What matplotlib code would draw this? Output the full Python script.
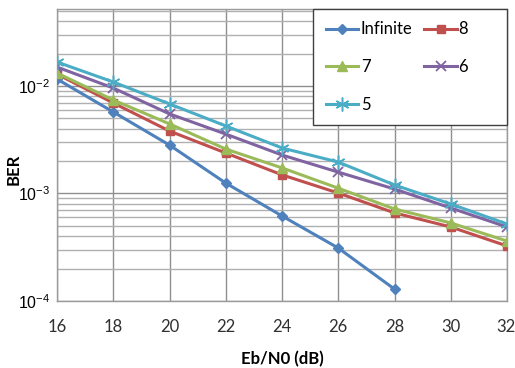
import matplotlib
matplotlib.use("Agg")
import matplotlib.pyplot as plt
import matplotlib.transforms as mtransforms
from matplotlib.ticker import LogLocator, FixedLocator, NullFormatter

ebn0 = [16, 18, 20, 22, 24, 26, 28, 30, 32]
ber_inf = [0.0116, 0.00573, 0.00282, 0.00125, 0.000618, 0.000311, 0.000129]
ber_8 = [0.0129, 0.00695, 0.00381, 0.00238, 0.00149, 0.00101, 0.000660, 0.000488, 0.000325]
ber_7 = [0.0132, 0.00741, 0.00444, 0.00259, 0.00173, 0.00112, 0.000718, 0.000532, 0.000361]
ber_6 = [0.0150, 0.00957, 0.00550, 0.00357, 0.00228, 0.00158, 0.00110, 0.000733, 0.000488]
ber_5 = [0.0167, 0.01089, 0.00681, 0.00425, 0.00265, 0.00196, 0.00120, 0.000798, 0.000520]
labels = ["Infinite", "8", "7", "6", "5"]
xticks = [16, 18, 20, 22, 24, 26, 28, 30, 32]
yticks = [1e-4, 1e-3, 1e-2]

plt.rcParams["font.family"] = ["Lato", "DejaVu Sans"]
plt.rcParams["mathtext.fontset"] = "custom"
plt.rcParams["mathtext.rm"] = "Liberation Sans"
plt.rcParams["mathtext.it"] = "Liberation Sans"
plt.rcParams["mathtext.bf"] = "Liberation Sans:bold"

fig = plt.figure(figsize=(5.15, 3.68), dpi=100)
ax = fig.add_axes([57/515, 67/368, 450/515, 292/368])

styles = [
    (ber_inf, "#4F81BD", "D", 5.5, {}),
    (ber_8, "#C0504D", "s", 6, {}),
    (ber_7, "#9BBB59", "^", 7, {}),
    (ber_6, "#8064A2", "x", 7, {"markeredgewidth": 1.3}),
    (ber_5, "#4BACC6", (6, 2, 0), 10, {"markeredgewidth": 1.1}),
]
handles = []
for (vals, col, mk, ms, extra), lab in zip(styles, labels):
    h, = ax.plot(ebn0[:len(vals)], vals, color=col, lw=2.2, marker=mk,
                 markersize=ms, markerfacecolor=col, markeredgecolor=col,
                 label=lab, zorder=3, **extra)
    handles.append(h)

ax.set_yscale("log")
ax.set_xlim(16, 32)
ax.set_ylim(1e-4, 0.052)
ax.xaxis.set_major_locator(FixedLocator(xticks))
ax.set_xticklabels([str(t) for t in xticks])
ax.yaxis.set_major_locator(FixedLocator(yticks))
ax.yaxis.set_minor_locator(LogLocator(base=10, subs=range(2, 10)))
ax.yaxis.set_minor_formatter(NullFormatter())
ax.set_yticklabels([r"$10^{-4}$", r"$10^{-3}$", r"$10^{-2}$"])
ax.tick_params(axis="both", which="both", length=0)
ax.tick_params(axis="x", labelsize=12, pad=13, labelcolor="#303030")
ax.tick_params(axis="y", labelsize=11.5, pad=5)
# keep the partially clipped last x label visible
lbl = ax.get_xticklabels()[-1]
lbl.set_horizontalalignment("right")
lbl.set_transform(lbl.get_transform() + mtransforms.ScaledTranslation(9/100, 0, fig.dpi_scale_trans))

ax.grid(True, which="major", color="#8F8F8F", lw=1.0)
ax.grid(True, which="minor", axis="y", color="#B0B0B0", lw=1.0)
ax.set_axisbelow(True)
for s in ax.spines.values():
    s.set_color("#9A9A9A")
    s.set_linewidth(1.0)

ax.set_xlabel("Eb/N0 (dB)", fontsize=12, fontweight="bold")
ax.xaxis.set_label_coords(0.5, -0.172)
ax.set_ylabel("BER", fontsize=12, fontweight="bold")
ax.yaxis.set_label_coords(-0.078, 0.45)

order = [0, 2, 4, 1, 3]
pad = " " * 6
leg_labels = [labels[i] + (pad if i in (1, 3) else "") for i in order]
leg = ax.legend([handles[i] for i in order], leg_labels,
                ncol=2, loc="upper right", bbox_to_anchor=(1.0, 1.0),
                fontsize=12, frameon=True, fancybox=False, labelspacing=1.3,
                handlelength=1.95, handletextpad=0.15, columnspacing=0.7,
                borderpad=0.75, borderaxespad=0.0)
leg.get_frame().set_edgecolor("#404040")
leg.get_frame().set_linewidth(1.0)
leg.get_frame().set_alpha(1.0)

fig.savefig("out.png", dpi=100)
